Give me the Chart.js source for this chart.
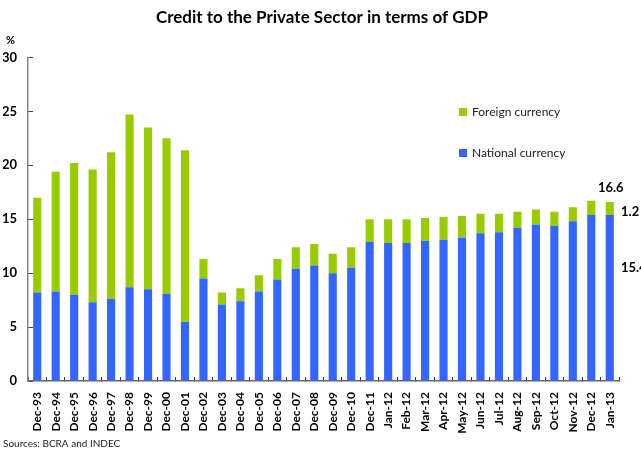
<!DOCTYPE html>
<html lang="en">
  <head>
    <meta charset="utf-8">
    <title>Credit to the Private Sector in terms of GDP</title>
    <script src="https://cdn.jsdelivr.net/npm/chart.js"></script>
    <style>
      html, body { margin: 0; padding: 0; background: #fff; }
      #wrap { width: 641px; height: 452px; }
    </style>
  </head>
  <body>
    <div id="wrap">
        <canvas id="myChart"></canvas>
    </div>
  </body>

  <script>
    // periods on the x axis
    const labels = ['Dec-93', 'Dec-94', 'Dec-95', 'Dec-96', 'Dec-97', 'Dec-98', 'Dec-99', 'Dec-00',
        'Dec-01', 'Dec-02', 'Dec-03', 'Dec-04', 'Dec-05', 'Dec-06', 'Dec-07', 'Dec-08', 'Dec-09',
        'Dec-10', 'Dec-11', 'Jan-12', 'Feb-12', 'Mar-12', 'Apr-12', 'May-12', 'Jun-12', 'Jul-12',
        'Aug-12', 'Sep-12', 'Oct-12', 'Nov-12', 'Dec-12', 'Jan-13'];

    // % of GDP
    const nationalCurrency = [8.2, 8.3, 8.0, 7.3, 7.6, 8.7, 8.5, 8.1, 5.5, 9.5, 7.1, 7.4, 8.3, 9.4,
        10.4, 10.7, 10.0, 10.5, 12.9, 12.8, 12.8, 13.0, 13.1, 13.3, 13.7, 13.8, 14.2, 14.5, 14.4,
        14.8, 15.4, 15.4];
    const foreignCurrency = [8.8, 11.1, 12.2, 12.3, 13.6, 16.0, 15.0, 14.4, 15.9, 1.8, 1.1, 1.2,
        1.5, 1.9, 2.0, 2.0, 1.8, 1.9, 2.1, 2.2, 2.2, 2.1, 2.1, 2.0, 1.8, 1.7, 1.5, 1.4, 1.3, 1.3,
        1.3, 1.2];

    const yTicks = [0, 5, 10, 15, 20, 25, 30];

    Chart.defaults.font.family = 'Lato, "DejaVu Sans", sans-serif';
    Chart.defaults.color = '#000';

    // legend box inside the plot + the last-value labels + the "%" unit
    const extras = {
        id: 'extras',
        afterDraw(chart) {
            const c = chart.ctx;
            const x = chart.scales.x, y = chart.scales.y;
            c.save();
            c.textBaseline = 'middle';

            c.font = 'bold 11px Lato';
            c.textAlign = 'left';
            c.fillText('%', 6, 40);

            // legend
            const items = [chart.data.datasets[1], chart.data.datasets[0]];
            c.font = '12px Lato';
            items.forEach((ds, i) => {
                const ly = 112 + i * 41;
                c.fillStyle = ds.backgroundColor;
                c.fillRect(459, ly - 4, 8, 8);
                c.fillStyle = '#222';
                c.fillText(ds.label, 472, ly);
            });

            // annotations for the last bar
            const last = labels.length - 1;
            const nat = nationalCurrency[last], frg = foreignCurrency[last];
            const tot = Math.round((nat + frg) * 10) / 10;
            const bx = x.getPixelForValue(last);
            c.fillStyle = '#000';
            c.font = 'bold 13px Lato';
            c.textAlign = 'center';
            c.fillText(tot.toFixed(1), bx + 1, y.getPixelForValue(tot) - 14);
            c.textAlign = 'left';
            c.fillText(frg.toFixed(1), x.right + 2, y.getPixelForValue(nat + frg / 2) + 3);
            c.fillText(nat.toFixed(1), x.right + 2, y.getPixelForValue(nat * 0.68));
            c.restore();
        }
    };

    const ctx = document.getElementById('myChart').getContext('2d');
    const myChart = new Chart(ctx, {
        type: 'bar',
        data: {
            labels: labels,
            datasets: [
                {
                    label: 'National currency',
                    data: nationalCurrency,
                    backgroundColor: '#3366FF',
                    barPercentage: 0.44,
                    categoryPercentage: 1.0
                },
                {
                    label: 'Foreign currency',
                    data: foreignCurrency,
                    backgroundColor: '#99CC00',
                    barPercentage: 0.44,
                    categoryPercentage: 1.0
                }
            ]
        },
        plugins: [extras],
        options: {
            responsive: true,
            maintainAspectRatio: false,
            animation: false,
            layout: { padding: { left: 3, right: 0, top: 0, bottom: 0 } },
            plugins: {
                legend: { display: false },
                tooltip: { enabled: false },
                title: {
                    display: true,
                    text: 'Credit to the Private Sector in terms of GDP',
                    font: { size: 17, weight: 'bold' },
                    color: '#000',
                    padding: { top: 7, bottom: 30 }
                },
                subtitle: {
                    display: true,
                    text: 'Sources: BCRA and INDEC',
                    position: 'bottom',
                    align: 'start',
                    font: { size: 10 },
                    color: '#222',
                    padding: { top: 0, bottom: 2 }
                }
            },
            scales: {
                x: {
                    stacked: true,
                    grid: { drawOnChartArea: false, tickLength: -4, color: '#333' },
                    border: { color: '#666', width: 1.5 },
                    ticks: {
                        autoSkip: false,
                        minRotation: 90,
                        maxRotation: 90,
                        padding: 15,
                        color: '#000',
                        font: { size: 12, weight: 'bold' }
                    },
                    afterFit(s) { s.height = 57; }
                },
                y: {
                    stacked: true,
                    min: 0,
                    max: 30,
                    afterBuildTicks(s) { s.ticks = yTicks.map(v => ({ value: v })); },
                    grid: { drawOnChartArea: false, tickLength: -5, color: '#444' },
                    border: { color: '#888', width: 1.5 },
                    ticks: {
                        padding: 16,
                        color: '#000',
                        font: { size: 13, weight: 'bold' }
                    },
                    afterFit(s) { s.width = 25; }
                },
                yRight: {
                    position: 'right',
                    display: true,
                    grid: { display: false },
                    border: { display: false },
                    ticks: { display: false },
                    afterFit(s) { s.width = 22; }
                }
            }
        }
    });
    </script>
</html>
